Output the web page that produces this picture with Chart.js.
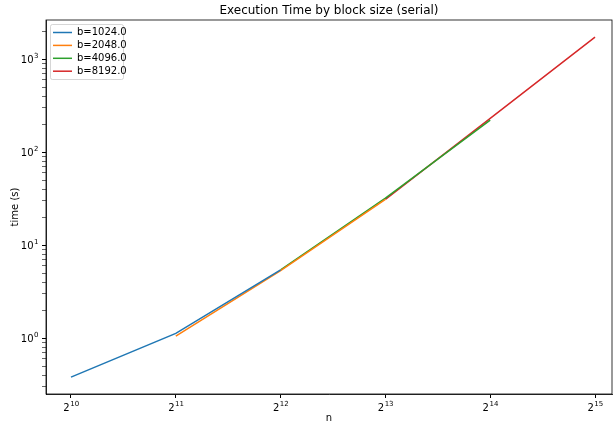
<!DOCTYPE html>
<html>
<head>
<meta charset="utf-8">
<script src="https://cdn.jsdelivr.net/npm/chart.js@4.4.1/dist/chart.umd.min.js"></script>
<style>
body { margin: 0; background: #fff; }
#wrap { width: 613px; height: 424px; }
</style>
</head>
<body>
<div id="wrap"><canvas id="myChart"></canvas></div>
<script>
// Series labels and colours (matplotlib default cycle)
let seriesLabels = ["b=1024.0", "b=2048.0", "b=4096.0", "b=8192.0"];
let seriesColors = ["#1f77b4", "#ff7f0e", "#2ca02c", "#d62728"];

// Problem size n for each block size
let nB1024 = [1024, 2048, 4096];
let nB2048 = [2048, 4096, 8192];
let nB4096 = [4096, 8192, 16384];
let nB8192 = [8192, 16384, 32768];

// Execution time (s)
let tB1024 = [0.38, 1.12, 5.4];
let tB2048 = [1.05, 5.3, 31];
let tB4096 = [5.4, 32, 220];
let tB8192 = [31, 230, 1720];

// Tick values
let xTicks = [1024, 2048, 4096, 8192, 16384, 32768];
let yMajorTicks = [1, 10, 100, 1000];

function makePoints(xs, ys) {
    return xs.map((x, i) => ({ x: x, y: ys[i] }));
}

let allN = [nB1024, nB2048, nB4096, nB8192];
let allT = [tB1024, tB2048, tB4096, tB8192];
let datasets = seriesLabels.map((lbl, i) => ({
    label: lbl,
    data: makePoints(allN[i], allT[i]),
    borderColor: seriesColors[i],
    backgroundColor: seriesColors[i],
    borderWidth: 1.5,
    pointRadius: 0,
    tension: 0
}));

const font = "DejaVu Sans";

// draw "base^exp" like matplotlib mathtext; align: 'center' or 'right'
function drawPow(ctx, base, exp, x, y, align) {
    ctx.font = "10px '" + font + "'";
    let bw = ctx.measureText(base).width;
    ctx.font = "7px '" + font + "'";
    let ew = ctx.measureText(exp).width;
    let left = align === "right" ? x - bw - ew : x - (bw + ew) / 2;
    ctx.textAlign = "left";
    ctx.textBaseline = "alphabetic";
    ctx.font = "10px '" + font + "'";
    ctx.fillText(base, left, y + 3.5);
    ctx.font = "7px '" + font + "'";
    ctx.fillText(exp, left + bw + 0.5, y - 1);
}

// Frame, title, tick labels and legend drawn like matplotlib
const mplDecor = {
    id: "mplDecor",
    afterDraw(chart) {
        const ctx = chart.ctx;
        const a = chart.chartArea;
        ctx.save();
        ctx.strokeStyle = "#000";
        ctx.lineWidth = 0.8;
        ctx.strokeRect(a.left, a.top, a.right - a.left, a.bottom - a.top);

        ctx.fillStyle = "#000";
        ctx.font = "12px '" + font + "'";
        ctx.textAlign = "center";
        ctx.textBaseline = "middle";
        ctx.fillText("Execution Time by block size (serial)", (a.left + a.right) / 2, 11);

        // tick labels
        const xs = chart.scales.x, ys = chart.scales.y;
        xTicks.forEach(v => {
            drawPow(ctx, "2", String(Math.round(Math.log2(v))), xs.getPixelForValue(v), a.bottom + 13, "center");
        });
        yMajorTicks.forEach(v => {
            drawPow(ctx, "10", String(Math.round(Math.log10(v))), a.left - 8, ys.getPixelForValue(v), "right");
        });

        // y axis title
        ctx.save();
        ctx.translate(15, (a.top + a.bottom) / 2);
        ctx.rotate(-Math.PI / 2);
        ctx.font = "10px '" + font + "'";
        ctx.textAlign = "center";
        ctx.textBaseline = "middle";
        ctx.fillText("time (s)", 0, 0);
        ctx.restore();

        // legend box
        const bx = 50, by = 24, bw = 73, bh = 55;
        ctx.globalAlpha = 0.8;
        ctx.fillStyle = "#fff";
        ctx.strokeStyle = "#cccccc";
        ctx.lineWidth = 1;
        ctx.beginPath();
        ctx.roundRect(bx + 0.5, by + 0.5, bw, bh, 2);
        ctx.fill();
        ctx.stroke();
        ctx.globalAlpha = 1;
        ctx.font = "10px '" + font + "'";
        ctx.textAlign = "left";
        ctx.textBaseline = "middle";
        for (let i = 0; i < seriesLabels.length; i++) {
            const ly = 32.5 + i * 12.9;
            ctx.strokeStyle = seriesColors[i];
            ctx.lineWidth = 1.5;
            ctx.beginPath();
            ctx.moveTo(53, ly);
            ctx.lineTo(72, ly);
            ctx.stroke();
            ctx.fillStyle = "#000";
            ctx.fillText(seriesLabels[i], 77, ly);
        }
        ctx.restore();
    }
};

let ctx = document.getElementById("myChart").getContext("2d");
let myChart = new Chart(ctx, {
    type: "line",
    data: { datasets: datasets },
    options: {
        responsive: true,
        maintainAspectRatio: false,
        animation: false,
        layout: { padding: { top: 20, right: 1, left: 0, bottom: 0 } },
        plugins: {
            legend: { display: false },
            title: { display: false },
            tooltip: { enabled: false }
        },
        scales: {
            x: {
                type: "logarithmic",
                min: Math.pow(2, 9.7615),
                max: Math.pow(2, 15.162),
                afterBuildTicks: function(scale) {
                    scale.ticks = xTicks.map(v => ({ value: v }));
                },
                afterFit: function(scale) { scale.height = 30; },
                ticks: {
                    autoSkip: false,
                    maxRotation: 0,
                    padding: 2,
                    font: { family: font, size: 10 },
                    callback: function() { return ""; }
                },
                grid: { drawOnChartArea: false, drawTicks: true, tickLength: 4, tickColor: "#000" },
                border: { display: true, color: "#000", width: 0.8 },
                title: { display: true, text: "n", color: "#000", font: { family: font, size: 10 }, padding: { top: 0, bottom: 0 } }
            },
            y: {
                type: "logarithmic",
                min: 0.25,
                max: 2630,
                afterBuildTicks: function(scale) {
                    let t = [];
                    for (let e = -1; e <= 3; e++) {
                        for (let m = 1; m <= 9; m++) {
                            let v = m * Math.pow(10, e);
                            if (v >= 0.25 && v <= 2630) t.push({ value: v });
                        }
                    }
                    scale.ticks = t;
                },
                afterFit: function(scale) { scale.width = 46; },
                ticks: {
                    autoSkip: false,
                    padding: 3,
                    font: { family: font, size: 10 },
                    callback: function() { return ""; }
                },
                grid: {
                    drawOnChartArea: false,
                    drawTicks: true,
                    tickLength: 4,
                    tickColor: "#000",
                    tickWidth: function(c) {
                        if (!c.tick) return 1;
                        let e = Math.log10(c.tick.value);
                        return Math.abs(e - Math.round(e)) < 1e-9 ? 1 : 0.6;
                    }
                },
                border: { display: true, color: "#000", width: 0.8 }
            }
        }
    },
    plugins: [mplDecor]
});
</script>
</body>
</html>
